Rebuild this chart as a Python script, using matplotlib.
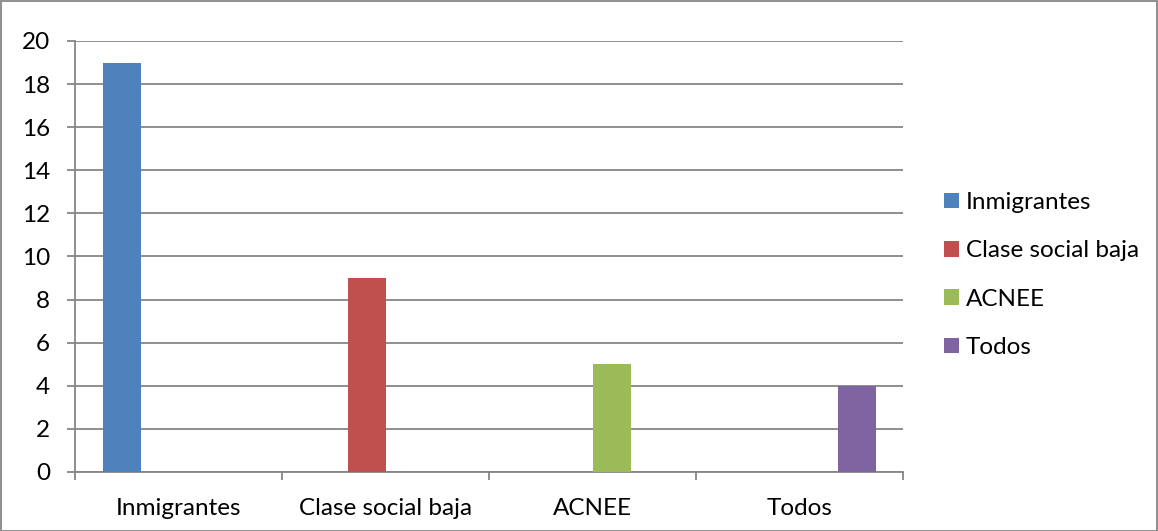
# Excel-style clustered bar chart
import numpy as np
import matplotlib.pyplot as plt
from matplotlib.patches import Rectangle

plt.rcParams['font.family'] = ['Lato', 'DejaVu Sans']

# data
categories = ["Inmigrantes", "Clase social baja", "ACNEE", "Todos"]
series_names = ["Inmigrantes", "Clase social baja", "ACNEE", "Todos"]
inmigrantes = [19, 0, 0, 0]
clase_baja = [0, 9, 0, 0]
acnee = [0, 0, 5, 0]
todos = [0, 0, 0, 4]
colors = ["#4F81BD", "#C0504D", "#9BBB59", "#8064A2"]

W, H = 1158, 531
fig = plt.figure(figsize=(W / 100, H / 100), dpi=100)
ax = fig.add_axes([75 / W, (H - 472) / H, (903 - 75) / W, (472 - 41) / H])

x = np.arange(len(categories))
w = 38 / 207
grid_c = "#868686"
fs = 17.5

for j, vals in enumerate([inmigrantes, clase_baja, acnee, todos]):
    ax.bar(x + (j - 1.5) * w, vals, width=w, color=colors[j],
           label=series_names[j], zorder=3)

ax.set_xlim(-0.5, 3.5)
ax.set_ylim(0, 20)
ax.set_yticks(range(0, 21, 2))
ax.yaxis.grid(True, color=grid_c, linewidth=1.3, zorder=0)

# category labels centered, tick marks on group boundaries
ax.set_xticks(x)
ax.set_xticklabels(categories)
ax.set_xticks(np.arange(-0.5, 4.0, 1.0), minor=True)
ax.tick_params(axis="x", which="major", length=0, pad=18.5, labelsize=fs)
ax.tick_params(axis="x", which="minor", length=6, width=1.3, color=grid_c)
ax.tick_params(axis="y", length=6, width=1.3, color=grid_c, pad=12,
               labelsize=fs)

for side in ["top", "right"]:
    ax.spines[side].set_visible(False)
for side in ["left", "bottom"]:
    ax.spines[side].set_color(grid_c)
    ax.spines[side].set_linewidth(1.3)

fig.legend(loc="center left", bbox_to_anchor=(932 / W, (H - 275) / H),
           frameon=False, fontsize=fs, handlelength=0.6, handleheight=0.6,
           handletextpad=0.3, labelspacing=1.12, borderpad=0)

# outer chart border
fig.patches.append(Rectangle((0.5 / W, 0.5 / H), 1 - 1.5 / W, 1 - 1.5 / H,
                             transform=fig.transFigure, fill=False,
                             edgecolor=grid_c, linewidth=1.3))

fig.savefig("out.png", dpi=100)
